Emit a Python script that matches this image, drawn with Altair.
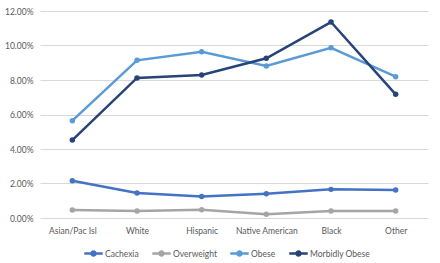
import altair as alt
import pandas as pd

categories = ["Asian/Pac Isl", "White", "Hispanic", "Native American", "Black", "Other"]
cachexia = [0.0216, 0.0145, 0.0124, 0.0141, 0.0166, 0.0162]
overweight = [0.0047, 0.0040, 0.0048, 0.0022, 0.0041, 0.0041]
obese = [0.0564, 0.0914, 0.0964, 0.0881, 0.0987, 0.0819]
morbidly_obese = [0.0452, 0.0812, 0.0829, 0.0926, 0.1136, 0.0717]

series_names = ["Cachexia", "Overweight", "Obese", "Morbidly Obese"]
series_colors = ["#4472C4", "#A5A5A5", "#5B9BD5", "#264478"]
y_ticks = [0, 0.02, 0.04, 0.06, 0.08, 0.10, 0.12]

rows = []
for name, vals in zip(series_names, [cachexia, overweight, obese, morbidly_obese]):
    for c, v in zip(categories, vals):
        rows.append({"Category": c, "Series": name, "Value": v})
df = pd.DataFrame(rows)

FONT = "Lato"
legend_symbol = "M-1,0L-0.3,0M0.3,0L1,0M-0.22,0A0.22,0.22 0 1,0 0.22,0A0.22,0.22 0 1,0 -0.22,0Z"

chart = alt.Chart(df).mark_line(
    strokeWidth=2.5,
    point=alt.OverlayMarkDef(filled=True, size=30, opacity=1),
).encode(
    x=alt.X("Category:N", sort=categories, title=None,
            scale=alt.Scale(paddingInner=0, paddingOuter=0.5),
            axis=alt.Axis(labelAngle=0, domain=False, ticks=False, labelPadding=8,
                          labelFont=FONT, labelFontSize=8.5, labelColor="#595959")),
    y=alt.Y("Value:Q", title=None,
            scale=alt.Scale(domain=[0, 0.12], nice=False),
            axis=alt.Axis(values=y_ticks, format=".2%", domain=False, ticks=False,
                          labelPadding=7, gridColor="#D9D9D9", gridWidth=1,
                          labelFont=FONT, labelFontSize=8.5, labelColor="#595959")),
    color=alt.Color("Series:N", sort=series_names,
                    scale=alt.Scale(domain=series_names, range=series_colors),
                    legend=alt.Legend(title=None, orient="none", direction="horizontal",
                                      legendX=43, legendY=232, columns=4, gridAlign="none",
                                      symbolType=legend_symbol, symbolSize=340,
                                      symbolStrokeWidth=2.5, columnPadding=8,
                                      labelFont=FONT, labelFontSize=8.5,
                                      labelColor="#595959", labelOffset=1)),
).properties(
    width=388, height=207,
    autosize=alt.AutoSizeParams(type="none"),
    padding={"left": 40, "top": 11, "right": 12, "bottom": 45},
    background="white",
).configure_view(stroke=None)

chart.save("out.html", embed_options={"renderer": "svg", "actions": False})
